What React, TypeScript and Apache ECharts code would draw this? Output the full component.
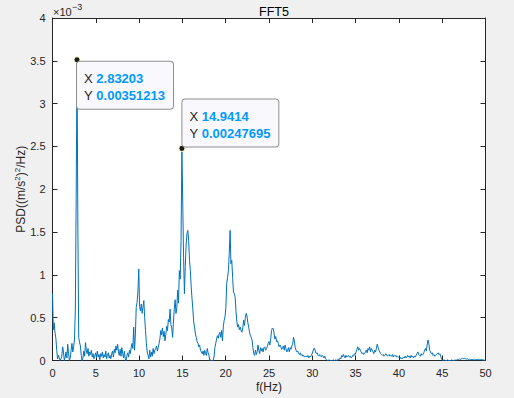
import { useEffect, useRef } from 'react';
import * as echarts from 'echarts';

// Frequency resolution of the FFT (Hz per bin): 100 Hz / 1024 points
const FREQ_STEP = 100 / 1024;

// PSD values, in units of 1e-3 (m/s^2)^2/Hz, one per frequency bin (0 .. 50 Hz)
const PSD_E3 = [
  0.78, 0.36, 0.44, 0.32, 0.26, 0.12, 0.02, 0.06, 0.03, 0.00,
  0.02, 0.05, 0.16, 0.10, 0.00, 0.04, 0.10, 0.03, 0.19, 0.08,
  0.00, 0.03, 0.12, 0.20, 0.10, 0.16, 0.25, 0.60, 1.90, 3.51213,
  1.55, 0.27, 0.21, 0.17, 0.06, 0.00, 0.03, 0.11, 0.05, 0.21,
  0.12, 0.08, 0.14, 0.05, 0.10, 0.07, 0.12, 0.04, 0.08, 0.02,
  0.05, 0.09, 0.03, 0.11, 0.04, 0.07, 0.01, 0.08, 0.05, 0.10,
  0.03, 0.07, 0.04, 0.11, 0.02, 0.06, 0.09, 0.03, 0.06, 0.02,
  0.08, 0.11, 0.04, 0.13, 0.09, 0.17, 0.12, 0.19, 0.10, 0.06,
  0.13, 0.05, 0.15, 0.08, 0.03, 0.11, 0.02, 0.00, 0.06, 0.09,
  0.04, 0.12, 0.08, 0.15, 0.20, 0.14, 0.39, 0.12, 0.30, 0.62,
  0.68, 0.80, 1.07, 0.63, 0.58, 0.66, 0.55, 0.62, 0.70, 0.50,
  0.35, 0.20, 0.10, 0.06, 0.02, 0.12, 0.04, 0.10, 0.05, 0.14,
  0.08, 0.12, 0.14, 0.17, 0.11, 0.15, 0.20, 0.25, 0.35, 0.30,
  0.38, 0.28, 0.34, 0.23, 0.30, 0.40, 0.35, 0.48, 0.45, 0.60,
  0.42, 0.38, 0.27, 0.45, 0.60, 0.71, 0.55, 0.62, 0.82, 0.67,
  1.05, 0.95, 1.40, 2.47695, 1.85, 1.20, 0.78, 1.10, 1.35, 1.48,
  1.52, 1.40, 1.17, 1.05, 0.86, 0.72, 0.59, 0.45, 0.39, 0.31,
  0.27, 0.22, 0.20, 0.16, 0.18, 0.12, 0.10, 0.08, 0.11, 0.06,
  0.12, 0.08, 0.06, 0.14, 0.09, 0.06, 0.00, 0.01, 0.00, 0.00,
  0.00, 0.04, 0.15, 0.20, 0.25, 0.29, 0.26, 0.31, 0.33, 0.27,
  0.35, 0.23, 0.40, 0.47, 0.51, 0.62, 0.90, 0.97, 1.05, 1.25,
  1.52, 1.13, 1.17, 0.97, 0.80, 0.78, 0.74, 0.57, 0.45, 0.39,
  0.42, 0.36, 0.39, 0.35, 0.33, 0.38, 0.47, 0.41, 0.50, 0.55,
  0.52, 0.44, 0.39, 0.33, 0.29, 0.27, 0.24, 0.15, 0.08, 0.06,
  0.12, 0.07, 0.10, 0.18, 0.12, 0.08, 0.15, 0.11, 0.14, 0.10,
  0.15, 0.16, 0.12, 0.14, 0.16, 0.20, 0.22, 0.18, 0.25, 0.35,
  0.38, 0.37, 0.32, 0.25, 0.28, 0.22, 0.23, 0.20, 0.16, 0.18,
  0.16, 0.13, 0.15, 0.17, 0.12, 0.18, 0.14, 0.10, 0.12, 0.15,
  0.10, 0.15, 0.13, 0.17, 0.19, 0.27, 0.23, 0.15, 0.12, 0.10,
  0.11, 0.08, 0.07, 0.09, 0.06, 0.07, 0.05, 0.06, 0.04, 0.05,
  0.05, 0.04, 0.06, 0.03, 0.05, 0.04, 0.06, 0.08, 0.11, 0.14,
  0.14, 0.10, 0.08, 0.09, 0.06, 0.05, 0.07, 0.06, 0.04, 0.06,
  0.05, 0.03, 0.05, 0.02, 0.01, 0.00, 0.00, 0.01, 0.00, 0.00,
  0.00, 0.00, 0.01, 0.00, 0.00, 0.01, 0.00, 0.00, 0.02, 0.01,
  0.03, 0.02, 0.06, 0.04, 0.07, 0.05, 0.03, 0.06, 0.04, 0.05,
  0.06, 0.04, 0.05, 0.03, 0.04, 0.06, 0.05, 0.08, 0.07, 0.10,
  0.13, 0.16, 0.12, 0.14, 0.12, 0.10, 0.08, 0.09, 0.07, 0.08,
  0.10, 0.12, 0.09, 0.14, 0.12, 0.16, 0.10, 0.14, 0.12, 0.10,
  0.08, 0.12, 0.10, 0.14, 0.19, 0.15, 0.12, 0.10, 0.08, 0.07,
  0.06, 0.07, 0.05, 0.06, 0.08, 0.07, 0.05, 0.06, 0.07, 0.05,
  0.06, 0.05, 0.07, 0.04, 0.06, 0.05, 0.06, 0.04, 0.05, 0.04,
  0.03, 0.04, 0.02, 0.03, 0.02, 0.04, 0.03, 0.05, 0.03, 0.04,
  0.06, 0.04, 0.05, 0.03, 0.06, 0.04, 0.05, 0.03, 0.05, 0.04,
  0.06, 0.08, 0.10, 0.07, 0.06, 0.05, 0.08, 0.06, 0.07, 0.09,
  0.12, 0.14, 0.11, 0.18, 0.24, 0.20, 0.12, 0.10, 0.08, 0.09,
  0.06, 0.07, 0.05, 0.06, 0.07, 0.08, 0.09, 0.07, 0.08, 0.05,
  0.02, 0.00, 0.00, 0.01, 0.00, 0.00, 0.00, 0.01, 0.00, 0.00,
  0.00, 0.00, 0.01, 0.00, 0.00, 0.00, 0.01, 0.00, 0.01, 0.01,
  0.01, 0.02, 0.01, 0.02, 0.02, 0.03, 0.02, 0.025, 0.02, 0.02,
  0.015, 0.02, 0.01, 0.015, 0.01, 0.01, 0.012, 0.01, 0.01, 0.015,
  0.01, 0.01, 0.012, 0.01, 0.015, 0.01, 0.01, 0.012, 0.01, 0.008,
  0.005, 0.003, 0.0,
];

// Axis ranges / ticks
const X_MIN = 0;
const X_MAX = 50;
const X_STEP = 5;
const Y_MIN = 0;
const Y_MAX = 4;
const Y_STEP = 0.5;

// Data tips (MATLAB datatips)
const TIP_X = ['2.83203', '14.9414'];
const TIP_Y = ['0.00351213', '0.00247695'];
const TIP_F = [2.83203, 14.9414];
const TIP_PSD_E3 = [3.51213, 2.47695];

export default function App() {
  const ref = useRef<HTMLDivElement>(null);

  useEffect(() => {
    if (!ref.current) return;
    const chart = echarts.init(ref.current, null, { renderer: 'svg' });
    const font = "'Liberation Sans', Arial, Helvetica, sans-serif";
    const ink = '#262626';
    const lineData = PSD_E3.map((v, i) => [i * FREQ_STEP, v]);

    const tipLabel = (k: number, below: boolean) => ({
      show: true,
      position: below ? [3.5, 5.5] : [4, 1.7],
      align: 'left',
      verticalAlign: below ? 'top' : 'bottom',
      formatter: `{k|X }{v|${TIP_X[k]}}\n{k|Y }{v|${TIP_Y[k]}}`,
      backgroundColor: '#f9f9fd',
      borderColor: '#8f8f8f',
      borderWidth: 1,
      borderRadius: 3,
      padding: [8, 8, 5, 7],
      rich: {
        k: { color: ink, fontSize: 13, fontFamily: font, lineHeight: 17 },
        v: { color: '#0099ff', fontSize: 13, fontWeight: 'bold', fontFamily: font, lineHeight: 17 },
      },
    });

    const axisCommon = {
      axisLine: { show: true, onZero: false, lineStyle: { color: ink, width: 1 } },
      axisTick: { show: true, inside: true, length: 5, lineStyle: { color: ink, width: 1 } },
      splitLine: { show: false },
    };

    chart.setOption({
      animation: false,
      backgroundColor: '#f0f0f0',
      title: {
        text: 'FFT5',
        left: 269,
        top: 0,
        textAlign: 'center',
        textStyle: { color: '#000', fontSize: 12.5, fontWeight: 'normal', fontFamily: font },
      },
      grid: {
        left: 52.5,
        right: 28.5,
        top: 18,
        bottom: 37.5,
        outerBoundsMode: 'none',
        containLabel: false,
        show: true,
        backgroundColor: '#ffffff',
        borderWidth: 0,
      },
      xAxis: [
        {
          type: 'value',
          position: 'bottom',
          min: X_MIN,
          max: X_MAX,
          interval: X_STEP,
          ...axisCommon,
          axisLabel: { color: ink, fontSize: 11, fontFamily: font, margin: 7 },
          name: 'f(Hz)',
          nameLocation: 'middle',
          nameGap: 20,
          nameMoveOverlap: false,
          nameTextStyle: { color: ink, fontSize: 12, fontFamily: font },
        },
        {
          type: 'value',
          position: 'top',
          min: X_MIN,
          max: X_MAX,
          interval: X_STEP,
          ...axisCommon,
          axisLabel: { show: false },
        },
      ],
      yAxis: [
        {
          type: 'value',
          position: 'left',
          min: Y_MIN,
          max: Y_MAX,
          interval: Y_STEP,
          ...axisCommon,
          axisLabel: { color: ink, fontSize: 11, fontFamily: font, margin: 7 },
          name: 'PSD((m/s{s|2}){s|2}/Hz)',
          nameLocation: 'middle',
          nameGap: 25,
          nameRotate: 90,
          nameMoveOverlap: false,
          nameTextStyle: {
            color: ink,
            fontSize: 12,
            fontFamily: font,
            rich: { s: { color: ink, fontSize: 8, fontFamily: font, verticalAlign: 'top', padding: [0, 0, 6, 0] } },
          },
        },
        {
          type: 'value',
          position: 'right',
          min: Y_MIN,
          max: Y_MAX,
          interval: Y_STEP,
          ...axisCommon,
          axisLabel: { show: false },
        },
      ],
      graphic: [
        {
          type: 'text',
          x: 53,
          y: 11.7,
          style: { text: '×10', fontSize: 11, fontFamily: font, fill: ink, verticalAlign: 'middle', align: 'left' },
        },
        {
          type: 'text',
          x: 72,
          y: 7,
          style: { text: '−3', fontSize: 9, fontFamily: font, fill: ink, verticalAlign: 'middle', align: 'left' },
        },
      ],
      series: [
        {
          type: 'line',
          xAxisIndex: 0,
          yAxisIndex: 0,
          data: lineData,
          showSymbol: false,
          symbol: 'none',
          lineStyle: { color: '#0072bd', width: 1 },
          itemStyle: { color: '#0072bd' },
          z: 2,
          markPoint: {
            symbol: 'circle',
            symbolSize: 6,
            itemStyle: { color: '#1a1a1a', borderColor: '#ffffc0', borderWidth: 1 },
            data: [
              { coord: [TIP_F[0], TIP_PSD_E3[0]], label: tipLabel(0, true) },
              { coord: [TIP_F[1], TIP_PSD_E3[1]], label: tipLabel(1, false) },
            ],
          },
        },
      ],
    });

    return () => chart.dispose();
  }, []);

  return (
    <div
      ref={ref}
      style={{ position: 'fixed', left: 0, top: 0, width: 514, height: 398 }}
    />
  );
}
